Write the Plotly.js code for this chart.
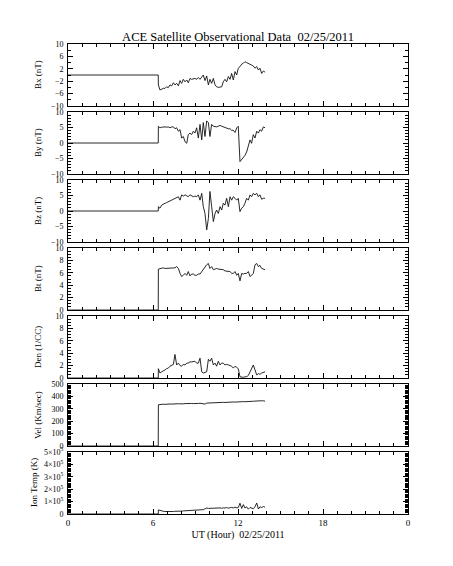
<!DOCTYPE html>
<html>
<head>
<meta charset="utf-8">
<script src="https://cdn.plot.ly/plotly-3.0.1.min.js"></script>
<style>html,body{margin:0;padding:0;background:#fff;}#chart{width:453px;height:566px;}</style>
</head>
<body>
<div id="chart"></div>
<script>
// UT hours (leading two points: fill level before the data begins)
const timeH = [0, 6.37,
 6.38, 6.49, 6.61, 6.73, 6.85, 6.96, 7.08, 7.20, 7.32, 7.44,
 7.55, 7.67, 7.79, 7.91, 8.02, 8.14, 8.26, 8.38, 8.49, 8.61,
 8.73, 8.85, 8.96, 9.08, 9.20, 9.32, 9.44, 9.55, 9.67, 9.79,
 9.91, 10.02, 10.14, 10.26, 10.38, 10.49, 10.61, 10.73, 10.85, 10.96,
 11.08, 11.20, 11.32, 11.44, 11.55, 11.67, 11.79, 11.91, 12.02, 12.14,
 12.26, 12.38, 12.49, 12.61, 12.73, 12.85, 12.96, 13.08, 13.20, 13.32,
 13.44, 13.55, 13.67, 13.79, 13.91];

const bx = [0, 0,
 -3.2, -4.8, -4.6, -4.3, -4.3, -3.8, -4.1, -3.2, -3.5, -2.5,
 -3.2, -2.7, -3.5, -1.8, -2.7, -1.4, -2.2, -1.6, -2.5, -1.1,
 -1.4, -1.3, -1.1, -1.4, -0.8, -1.4, -0.5, 0, -1.8, -0.3,
 -3.2, -1.4, -2.7, -1.1, -3.2, -3.8, -4.0, -4.0, -3.8, -2.2,
 -1.4, -2.2, -0.5, -1.4, 0.5, -1.6, 1.1, 0, 2.2, 2.7,
 3.5, 3.8, 4.3, 4.0, 3.8, 3.5, 3.2, 2.9, 2.2, 2.7,
 1.6, 2.2, 0.5, 1.3, 0.9];

const by = [0, 0,
 5.4, 4.9, 5.1, 5.2, 5.2, 5.1, 5.2, 4.9, 5.2, 5.2,
 4.6, 4.9, 3.8, 4.3, 1.6, 2.1, 0.4, -0.1, 2.7, 3.2,
 2.7, 3.8, 3.2, 4.9, 1.6, 6.0, 1.0, 6.6, 2.1, 7.1,
 6.6, 2.1, 6.0, 5.4, 5.2, 5.2, 5.4, 5.7, 5.4, 5.2,
 4.9, 4.9, 4.6, 4.6, 4.1, 4.1, 3.4, 4.9, 5.4, -6.0,
 -5.4, -4.8, -4.0, -2.9, -1.2, 1.0, -0.1, 2.7, 1.6, 3.8,
 3.2, 4.3, 3.8, 5.2, 4.9];

const bz = [0, 0,
 1.4, 0.9, 1.9, 2.3, 2.5, 2.7, 3.0, 3.3, 3.5, 3.8,
 4.1, 4.3, 4.6, 3.5, 5.2, 4.8, 5.2, 4.9, 4.6, 5.2,
 4.8, 4.6, 4.8, 4.6, 5.2, 3.5, 5.7, 1.4, -0.8, -6.1,
 -2.4, 6.3, 1.4, -3.4, -0.8, 0.3, -0.8, 1.4, 0.3, 2.5,
 1.9, 4.1, 1.4, 4.6, 3.5, 4.6, 4.1, 3.5, 4.1, -0.2,
 0.9, 1.4, 2.5, 4.1, 3.5, 5.2, 4.6, 5.7, 5.2, 5.7,
 4.6, 5.2, 3.8, 4.1, 4.1];

const bt = [0, 0,
 6.6, 6.7, 6.7, 6.8, 6.7, 6.7, 6.8, 6.8, 6.7, 6.7,
 6.8, 7.0, 6.7, 5.9, 5.4, 5.6, 5.9, 5.6, 6.2, 5.5,
 5.8, 5.8, 5.6, 5.6, 5.8, 5.8, 6.2, 6.7, 7.0, 7.3,
 7.5, 6.7, 7.0, 6.5, 6.6, 6.7, 6.6, 6.6, 6.5, 6.5,
 6.3, 6.3, 6.2, 6.2, 5.9, 5.9, 6.2, 5.6, 5.9, 4.7,
 5.9, 5.8, 5.9, 5.9, 6.2, 5.4, 5.6, 5.9, 7.3, 7.5,
 7.0, 7.2, 6.7, 6.6, 6.5];

const den = [0, 0,
 1.5, 0.8, 1.0, 1.1, 1.3, 1.5, 1.6, 1.9, 2.1, 2.2,
 3.8, 2.1, 2.4, 2.0, 1.9, 2.2, 2.1, 2.4, 2.4, 2.6,
 2.6, 2.7, 2.7, 2.4, 2.4, 3.2, 1.0, 0.8, 0.9, 1.0,
 3.0, 2.7, 3.2, 2.1, 2.4, 1.9, 2.7, 2.1, 2.4, 2.4,
 2.1, 2.2, 2.1, 2.0, 1.9, 1.6, 1.9, 1.7, 1.5, 0.2,
 0.1, 0.1, 0.2, 0.2, 0.4, 1.0, 1.7, 2.1, 1.3, 0.5,
 0.7, 0.6, 0.8, 0.9, 1.0];

const vel = [0, 0,
 333, 336, 335, 337, 336, 338, 337, 339, 338, 340,
 337, 339, 341, 340, 338, 340, 342, 341, 339, 341,
 343, 342, 341, 344, 343, 345, 342, 344, 338, 346,
 347, 345, 348, 347, 349, 350, 348, 351, 350, 352,
 351, 353, 352, 354, 353, 355, 354, 356, 355, 357,
 356, 358, 357, 359, 358, 360, 359, 361, 362, 364,
 363, 366, 365, 364, 362];

const temp = [0, 0,
 33000, 28000, 25000, 22000, 20000, 19000, 20000, 18000, 19000, 20000,
 22000, 21000, 23000, 24000, 23000, 25000, 26000, 25000, 27000, 28000,
 27000, 30000, 29000, 32000, 34000, 32000, 36000, 35000, 42000, 48000,
 45000, 46000, 44000, 48000, 46000, 50000, 47000, 49000, 46000, 50000,
 48000, 52000, 47000, 50000, 53000, 49000, 55000, 50000, 52000, 87000,
 45000, 76000, 48000, 58000, 39000, 53000, 46000, 42000, 58000, 89000,
 40000, 58000, 52000, 60000, 55000];

const seriesList = [bx, by, bz, bt, den, vel, temp];
const panelTitles = ["Bx (nT)", "By (nT)", "Bz (nT)", "Bt (nT)", "Den (1/CC)", "Vel (Km/sec)", "Ion Temp (K)"];
const yRanges = [[-10, 10], [-10, 10], [-10, 10], [0, 10], [0, 10], [0, 500], [0, 500000]];
const yTickVals = [
  [-10, -6, -2, 2, 6, 10],
  [-10, -5, 0, 5, 10],
  [-10, -5, 0, 5, 10],
  [0, 2, 4, 6, 8, 10],
  [0, 2, 4, 6, 8, 10],
  [0, 100, 200, 300, 400, 500],
  [0, 100000, 200000, 300000, 400000, 500000]
];
const yTickText = [
  ["\u221210", "\u22126", "\u22122", "2", "6", "10"],
  ["\u221210", "\u22125", "0", "5", "10"],
  ["\u221210", "\u22125", "0", "5", "10"],
  ["0", "2", "4", "6", "8", "10"],
  ["0", "2", "4", "6", "8", "10"],
  ["0", "100", "200", "300", "400", "500"],
  ["0", "1\u00d710<sup>5</sup>", "2\u00d710<sup>5</sup>", "3\u00d710<sup>5</sup>", "4\u00d710<sup>5</sup>", "5\u00d710<sup>5</sup>"]
];
const yMinor = [2, 1, 1, 0.5, 0.5, 10, 10000];
const xTickVals = [0, 6, 12, 18, 24];
const xTickText = ["0", "6", "12", "18", "0"];
const chartTitle = "ACE Satellite Observational Data\u00a0\u00a002/25/2011";
const xTitle = "UT (Hour)\u00a0\u00a002/25/2011";

const W = 453, H = 566, mT = 44, mB = 52, mL = 68, mR = 45;
const plotH = H - mT - mB;
const panelH = 62, panelStep = 68;
const serif = "Liberation Serif, DejaVu Serif, serif";
const tickFont = {family: serif, size: 8, color: "#000"};

const traces = [];
const layout = {
  width: W, height: H,
  margin: {l: mL, r: mR, t: mT, b: mB, pad: 0},
  paper_bgcolor: "#fff", plot_bgcolor: "#fff",
  showlegend: false,
  title: {text: chartTitle, x: 0.5, xref: "paper", xanchor: "center", y: 1 - 37 / H, yref: "container", yanchor: "middle",
          font: {family: serif, size: 12.5, color: "#000"}},
  annotations: []
};

seriesList.forEach((vals, i) => {
  const n = i + 1;
  const sfx = n === 1 ? "" : String(n);
  const top = mT + i * panelStep;
  const bottom = top + panelH;
  const dom = [(H - mB - bottom) / plotH, (H - mB - top) / plotH];
  traces.push({
    x: timeH, y: vals, type: "scatter", mode: "lines",
    xaxis: "x" + sfx, yaxis: "y" + sfx,
    line: {color: "#111", width: 0.9}, hoverinfo: "skip"
  });
  const last = i === seriesList.length - 1;
  layout["xaxis" + sfx] = {
    domain: [0, 1], anchor: "y" + sfx, range: [0, 24],
    tickmode: "array", tickvals: xTickVals, ticktext: xTickText,
    showticklabels: last, ticks: "inside", ticklen: 5, tickcolor: "#000", tickwidth: 1,
    minor: {dtick: 1, tick0: 0, ticks: "inside", ticklen: 3, tickcolor: "#000", tickwidth: 1, showgrid: false},
    showline: true, linecolor: "#000", linewidth: 1, mirror: "ticks",
    showgrid: false, zeroline: false, fixedrange: true,
    tickfont: {family: serif, size: 9, color: "#000"}
  };
  if (last) {
    layout["xaxis" + sfx].title = {text: xTitle, font: {family: serif, size: 10, color: "#000"}, standoff: 4};
  }
  layout["yaxis" + sfx] = {
    domain: dom, anchor: "x" + sfx, range: yRanges[i],
    tickmode: "array", tickvals: yTickVals[i], ticktext: yTickText[i],
    ticks: "inside", ticklen: 5, tickcolor: "#000", tickwidth: 1,
    minor: {dtick: yMinor[i], ticks: "inside", ticklen: 3, tickcolor: "#000", tickwidth: 1, showgrid: false},
    showline: true, linecolor: "#000", linewidth: 1, mirror: "ticks",
    showgrid: false, zeroline: false, fixedrange: true,
    tickfont: tickFont, ticklabelstandoff: 2
  };
  layout.annotations.push({
    text: panelTitles[i], textangle: -90, xref: "paper", yref: "paper",
    x: 0, xanchor: "center", xshift: (i === 6 ? 34 : 38) - mL,
    y: (dom[0] + dom[1]) / 2, yanchor: "middle", showarrow: false,
    font: {family: serif, size: 9, color: "#000"}
  });
});

Plotly.newPlot("chart", traces, layout, {staticPlot: true, displayModeBar: false});
</script>
</body>
</html>
